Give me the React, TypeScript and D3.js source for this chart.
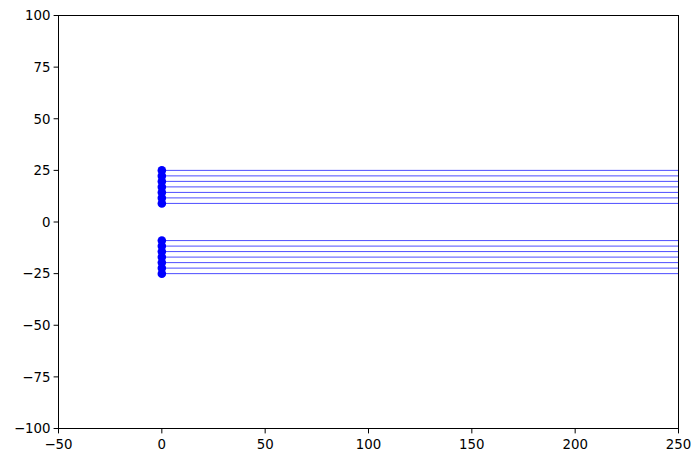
import React from "react";
import * as d3 from "d3";

const upperLevels = [25, 22.33, 19.67, 17, 14.33, 11.67, 9];
const lowerLevels = [-9, -11.67, -14.33, -17, -19.67, -22.33, -25];
const lineStartX = 0;
const lineEndX = 300;
const xTicks = [-50, 0, 50, 100, 150, 200, 250];
const yTicks = [-100, -75, -50, -25, 0, 25, 50, 75, 100];

const W = 700;
const H = 462;
const L = 58.5;
const R = 678.5;
const T = 15.5;
const B = 428.5;

const fmt = (v: number) => (v < 0 ? "\u2212" + Math.abs(v) : String(v));

export default function App() {
  const x = d3.scaleLinear().domain([-50, 250]).range([L, R]);
  const y = d3.scaleLinear().domain([-100, 100]).range([B, T]);
  const levels = [...upperLevels, ...lowerLevels];
  const font = "DejaVu Sans, sans-serif";
  return (
    <svg
      width={W}
      height={H}
      style={{ position: "absolute", left: 0, top: 0, background: "#fff" }}
    >
      <defs>
        <clipPath id="plot">
          <rect x={L} y={T} width={R - L} height={B - T} />
        </clipPath>
      </defs>
      <g clipPath="url(#plot)">
        {levels.map((v, i) => (
          <line
            key={"l" + i}
            x1={x(lineStartX)}
            x2={x(lineEndX)}
            y1={y(v)}
            y2={y(v)}
            stroke="#0000ff"
            strokeOpacity={0.7}
            strokeWidth={1}
          />
        ))}
        {levels.map((v, i) => (
          <circle
            key={"c" + i}
            cx={x(lineStartX)}
            cy={y(v)}
            r={4.3}
            fill="#0000ff"
          />
        ))}
      </g>
      <rect
        x={L}
        y={T}
        width={R - L}
        height={B - T}
        fill="none"
        stroke="#000"
        strokeWidth={1}
      />
      {xTicks.map((t) => (
        <g key={"xt" + t}>
          <line x1={x(t)} x2={x(t)} y1={B} y2={B + 4.9} stroke="#000" strokeWidth={1} />
          <text
            x={x(t)}
            y={B + 7 + 13}
            textAnchor="middle"
            fontFamily={font}
            fontSize={13.33}
            fill="#000"
          >
            {fmt(t)}
          </text>
        </g>
      ))}
      {yTicks.map((t) => (
        <g key={"yt" + t}>
          <line x1={L - 4.9} x2={L} y1={y(t)} y2={y(t)} stroke="#000" strokeWidth={1} />
          <text
            x={L - 8}
            y={y(t)}
            dy="0.36em"
            textAnchor="end"
            fontFamily={font}
            fontSize={13.33}
            fill="#000"
          >
            {fmt(t)}
          </text>
        </g>
      ))}
    </svg>
  );
}
